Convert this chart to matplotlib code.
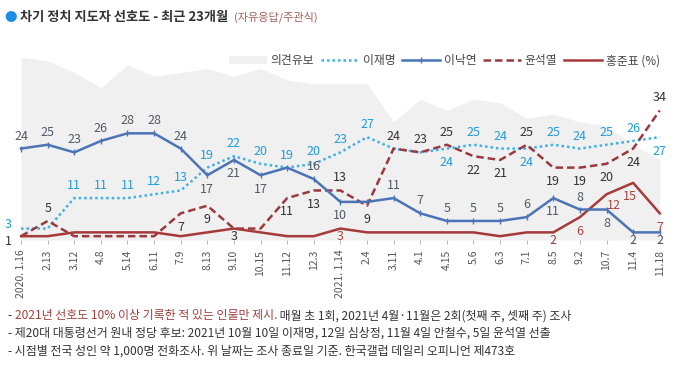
import matplotlib
matplotlib.use('Agg')
import matplotlib.pyplot as plt
import numpy as np

plt.rcParams['font.family'] = ['Noto Sans CJK KR', 'DejaVu Sans']

# ---- data ----
dates = ['2020. 1.16', '2.13', '3.12', '4.8', '5.14', '6.11', '7.9', '8.13', '9.10',
         '10.15', '11.12', '12.3', '2021. 1.14', '2.4', '3.11', '4.1', '4.15', '5.6',
         '6.3', '7.1', '8.5', '9.2', '10.7', '11.4', '11.18']
reserved = [48, 47, 44, 40, 46, 43, 44, 45, 43, 45, 42, 41, 41, 41, 31, 37, 34, 37,
            36, 32, 33, 31, 30, 25, 21]            # 의견유보
lee_jm = [3, 3, 11, 11, 11, 12, 13, 19, 22, 20, 19, 20, 23, 27, 24, 23, 24, 25,
          24, 24, 25, 24, 25, 26, 27]              # 이재명
lee_ny = [24, 25, 23, 26, 28, 28, 24, 17, 21, 17, 19, 16, 10, 10, 11, 7, 5, 5,
          5, 6, 11, 8, 8, 2, 2]                    # 이낙연
yoon = [1, 5, 1, 1, 1, 1, 7, 9, 3, 3, 11, 13, 13, 9, 24, 23, 25, 22,
        21, 25, 19, 19, 20, 24, 34]                # 윤석열
hong = [1, 1, 2, 2, 2, 2, 1, 2, 3, 2, 1, 1, 3, 2, 2, 2, 2, 2,
        1, 2, 2, 6, 12, 15, 7]                     # 홍준표

# label placement (offsets in points)
OFFS = {'a': (0, 9), 'b': (0, -10), 's': (0, -5.5), 'lu': (-9, 3), 'ld': (-9, -4),
        'br': (5, -8), 'bl': (-2, -10)}
pos_jm = ['lu', '', 'a', 'a', 'a', 'a', 'a', 'a', 'a', 'a', 'a', 'a', 'a', 'a', '', '',
          'b', 'a', 'a', 'b', 'a', 'a', 'a', 'a', 'b']
pos_ny = ['a', 'a', 'a', 'a', 'a', 'a', 'a', 'b', 'b', 'b', '', 'a', 'b', '', 'a', 'a',
          'a', 'a', 'a', 'a', 'b', 'a', 'b', 's', 's']
pos_yoon = ['ld', 'a', '', '', '', '', 'b', 'b', 's', '', 'b', 'b', 'a', 'b', 'a', 'a',
            'a', 'b', 'b', 'a', 'b', 'b', 'b', 'b', 'a']
pos_hong = ['', '', '', '', '', '', '', '', '', '', '', '', 's', '', '', '', '',
            '', '', '', 's', 'b', 'br', 'bl', 'b']

c_jm, c_jm_lab = '#3fb0e6', '#1f9ddb'
c_ny, c_ny_lab = '#4a74b6', '#505a66'
c_yoon, c_yoon_lab = '#9a3a3e', '#333333'
c_hong, c_hong_lab = '#a63a3a', '#a34840'

fig = plt.figure(figsize=(6.8, 3.65), dpi=100)
ax = fig.add_axes([10.4 / 680, 125 / 365, 660 / 680, 190.5 / 365])
x = np.arange(len(dates))

ax.fill_between(x, 0, reserved, color='#f0f0f0', lw=0, label='의견유보', zorder=1)
ax.plot(x, lee_jm, ls=(0, (1, 1.2)), color=c_jm, lw=1.8, label='이재명', zorder=3)
ax.plot(x, lee_ny, '-', color=c_ny, lw=1.8, marker='|', ms=4, mew=1, label='이낙연', zorder=4)
ax.plot(x, yoon, ls=(0, (3, 1.6)), color=c_yoon, lw=1.8, label='윤석열', zorder=3)
ax.plot(x, hong, '-', color=c_hong, lw=1.8, label='홍준표 (%)', zorder=3)


def put_labels(vals, where, color):
    for i, (v, p) in enumerate(zip(vals, where)):
        if not p:
            continue
        ax.annotate(str(v), (i, v), xytext=OFFS[p], textcoords='offset points',
                    ha='center', va='center', fontsize=9, color=color, zorder=6)


put_labels(lee_ny, pos_ny, c_ny_lab)
put_labels(lee_jm, pos_jm, c_jm_lab)
put_labels(yoon, pos_yoon, c_yoon_lab)
put_labels(hong, pos_hong, c_hong_lab)

ax.set_xlim(-0.4, 24.4)
ax.set_ylim(0, 50)
ax.set_xticks(x)
ax.set_xticklabels(dates, rotation=90, fontsize=7.5, color='#555555')
ax.tick_params(axis='x', length=3, color='#bbbbbb', pad=4)
ax.set_yticks([])
for s in ax.spines.values():
    s.set_visible(False)

ax.legend(loc='upper right', bbox_to_anchor=(1.0, 1.03), ncol=5, frameon=False,
          fontsize=8.5, handlelength=3.2, columnspacing=0.6, handletextpad=0.3,
          labelcolor='#444444')

# title
fig.text(0.006, 0.953, '●', color='#1a8fe3', fontsize=9, va='center')
t = fig.text(0.03, 0.953, '차기 정치 지도자 선호도 - 최근 23개월', fontsize=9.5,
             fontweight='bold', color='#333333', va='center')
ax.annotate('(자유응답/주관식)', xy=(1, 0.5), xycoords=t, xytext=(4, 0),
            textcoords='offset points', fontsize=8, color='#a0605a', va='center',
            annotation_clip=False)

# footnotes
fs = 8.6
f1 = fig.text(0.012, 0.135, '- ', fontsize=fs, color='#333333', va='center')
f1b = ax.annotate('2021년 선호도 10% 이상 기록한 적 있는 인물만 제시.', xy=(1, 0.5), xycoords=f1,
                  fontsize=fs, color='#a0403c', va='center', annotation_clip=False)
ax.annotate(' 매월 초 1회, 2021년 4월·11월은 2회(첫째 주, 셋째 주) 조사', xy=(1, 0.5),
            xycoords=f1b, fontsize=fs, color='#333333', va='center', annotation_clip=False)
fig.text(0.012, 0.087, '- 제20대 대통령선거 원내 정당 후보: 2021년 10월 10일 이재명, 12일 심상정, '
         '11월 4일 안철수, 5일 윤석열 선출', fontsize=fs, color='#333333', va='center')
fig.text(0.012, 0.038, '- 시점별 전국 성인 약 1,000명 전화조사. 위 날짜는 조사 종료일 기준. '
         '한국갤럽 데일리 오피니언 제473호', fontsize=fs, color='#333333', va='center')

fig.savefig('out.png', dpi=100)
